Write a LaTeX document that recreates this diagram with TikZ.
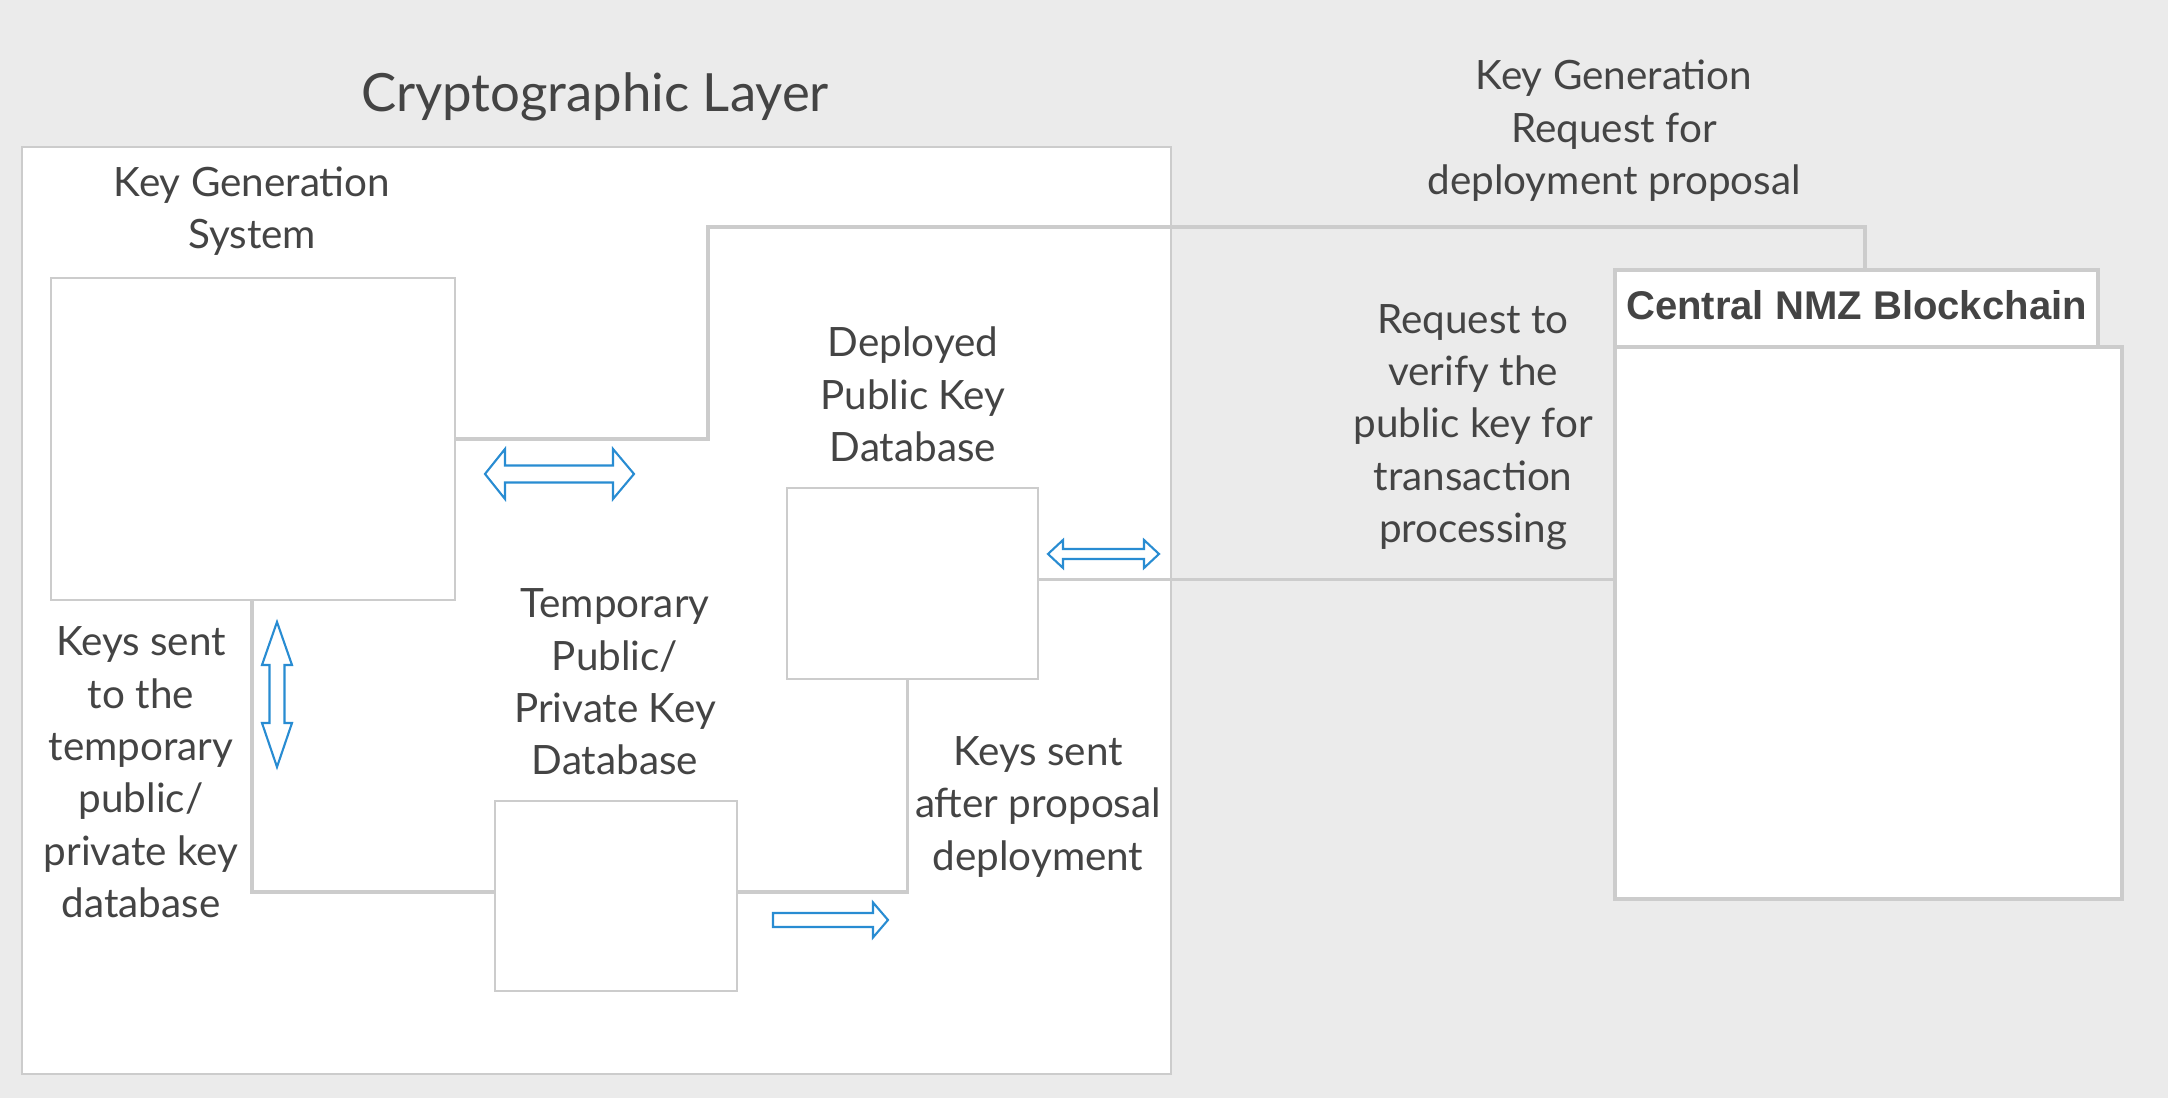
\documentclass[tikz,border=0pt]{standalone}
\usepackage{fontspec}
\setmainfont{Lato}
\newfontfamily\headfont{Liberation Sans}
\usepackage{tikz}
\definecolor{bggray}{RGB}{235,235,235}
\definecolor{linegray}{RGB}{204,204,204}
\definecolor{txtgray}{RGB}{68,68,68}
\definecolor{arrowblue}{RGB}{40,140,210}

\begin{document}
\begin{tikzpicture}[
    box/.style={draw=linegray, line width=0.6pt, fill=white, inner sep=0pt},
    link/.style={draw=linegray, line width=0.9pt},
    lbl/.style={text=txtgray, align=center, font=\fontsize{11.5}{14.9}\selectfont},
    barrow/.style={draw=arrowblue, fill=white, line width=0.6pt, line join=miter}
  ]
    \useasboundingbox[fill=bggray] (0,0) rectangle (21.68,10.98);
    \node[box, minimum width=11.49cm, minimum height=9.27cm] (layer) at (5.965,4.875) {};
    \node[text=txtgray, font=\fontsize{15}{18}\selectfont] (title) at (5.95,10.01) {Cryptographic Layer};

    \node[box, minimum width=4.04cm, minimum height=3.22cm] (kgs) at (2.53,6.59) {};
    \node[box, minimum width=2.51cm, minimum height=1.91cm] (dep) at (9.125,5.145) {};
    \node[box, minimum width=2.42cm, minimum height=1.90cm] (temp) at (6.16,2.02) {};
    \node[box, line width=1pt, minimum width=4.83cm, minimum height=0.77cm, text=txtgray,
      font=\headfont\bfseries\fontsize{11.4}{13}\selectfont] (head) at (18.565,7.895) {\raisebox{0.6mm}{Central NMZ Blockchain}};
    \node[box, line width=1pt, minimum width=5.07cm, minimum height=5.52cm] (chain) at (18.685,4.75) {};

    \node[lbl] (kgslbl) at (2.52,8.87) {Key Generation\\System};
    \node[lbl] (deplbl) at (9.13,7.035) {Deployed\\Public Key\\Database};
    \node[lbl] (templbl) at (6.15,4.16) {Temporary\\Public/\\Private Key\\Database};
    \node[lbl] (sentlbl) at (1.41,3.255) {Keys sent\\to the\\temporary\\public/\\private key\\database};
    \node[lbl] (afterlbl) at (10.38,2.91) {Keys sent\\after proposal\\deployment};
    \node[lbl] (verifylbl) at (14.73,6.71) {Request to\\verify the\\public key for\\transaction\\processing};
    \node[lbl] (reqlbl) at (16.14,9.67) {Key Generation\\Request for\\deployment proposal};

    \draw[link] (kgs.east) -| (7.08,8.71) -| ([xshift=0.085cm]head.north);
    \draw[link] ([xshift=-0.01cm]kgs.south) |- ([yshift=0.04cm]temp.west);
    \draw[link] ([yshift=0.04cm]temp.east) -| ([xshift=-0.05cm]dep.south);
    \draw[link] ([yshift=0.04cm]dep.east) -- ([yshift=0.04cm]dep.east -| chain.west);

    \draw[barrow] (4.85,6.24) -- (5.05,6.49) -- (5.05,6.325) -- (6.13,6.325) -- (6.13,6.49) -- (6.34,6.24)
      -- (6.13,5.99) -- (6.13,6.155) -- (5.05,6.155) -- (5.05,5.99) -- cycle;
    \draw[barrow] (2.77,4.76) -- (2.92,4.33) -- (2.845,4.33) -- (2.845,3.75) -- (2.92,3.75) -- (2.77,3.31)
      -- (2.62,3.75) -- (2.695,3.75) -- (2.695,4.33) -- (2.62,4.33) -- cycle;
    \draw[barrow] (7.73,1.85) -- (8.73,1.85) -- (8.73,1.955) -- (8.88,1.78) -- (8.73,1.605) -- (8.73,1.71)
      -- (7.73,1.71) -- cycle;
    \draw[barrow] (10.48,5.44) -- (10.63,5.58) -- (10.63,5.49) -- (11.44,5.49) -- (11.44,5.58) -- (11.59,5.44)
      -- (11.44,5.30) -- (11.44,5.39) -- (10.63,5.39) -- (10.63,5.30) -- cycle;
\end{tikzpicture}
\end{document}
